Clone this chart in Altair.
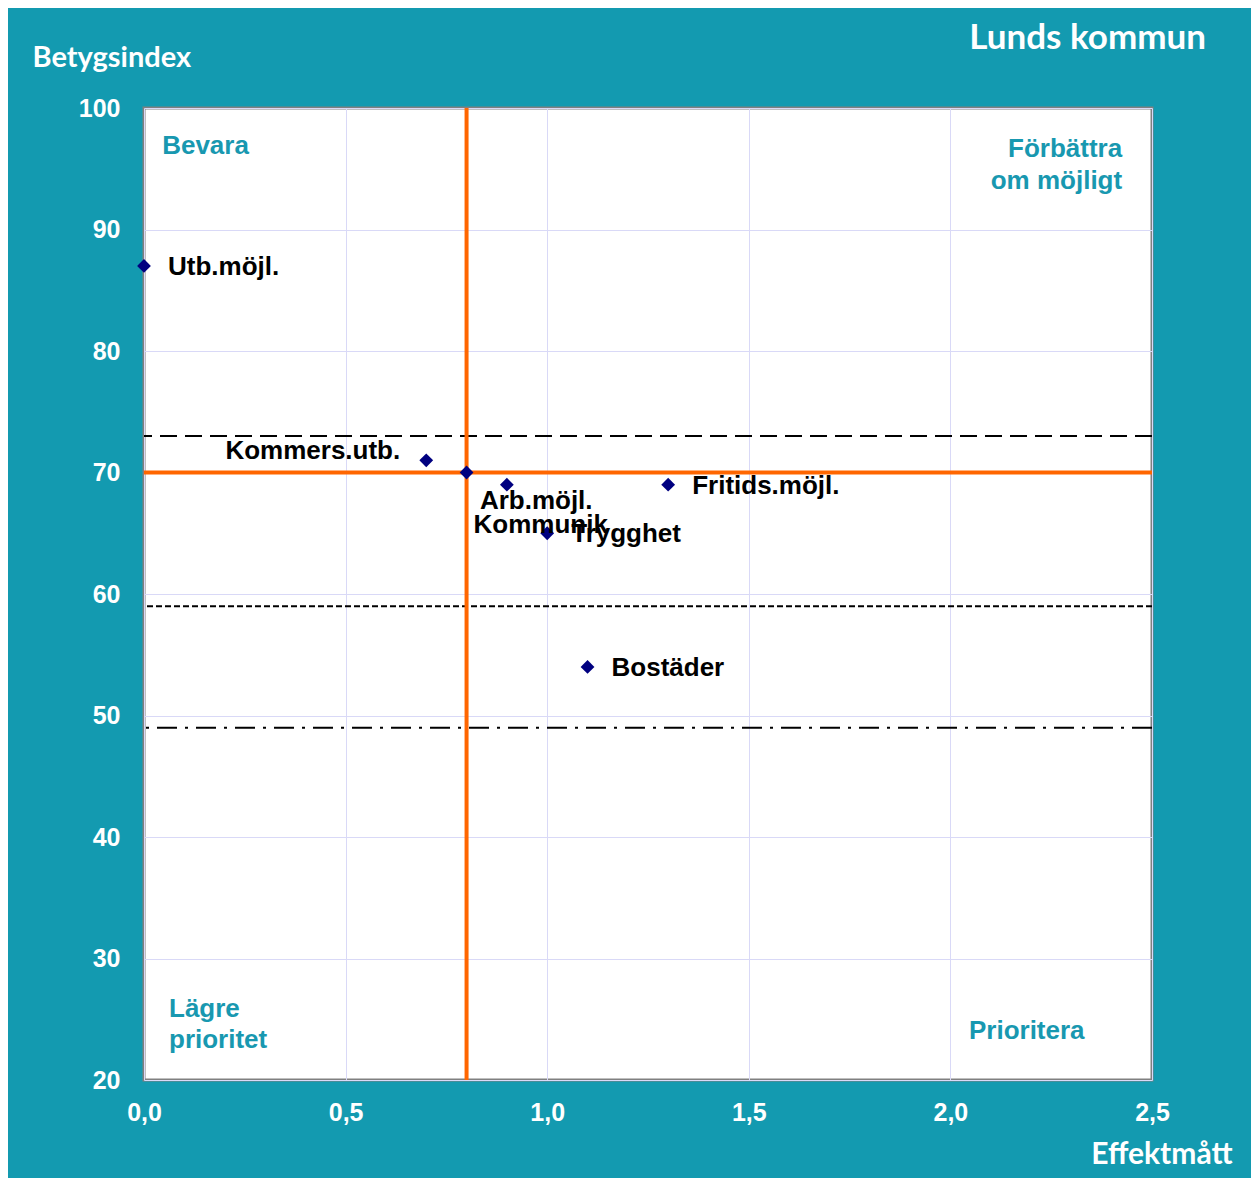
import altair as alt
import pandas as pd

# ---- data ----
names = ["Utb.möjl.", "Kommers.utb.", "Kommunik", "Arb.möjl.", "Trygghet", "Fritids.möjl.", "Bostäder"]
effekt = [0.0, 0.7, 0.8, 0.9, 1.0, 1.3, 1.1]
betyg = [87, 71, 70, 69, 65, 69, 54]
label_side = ["right", "left", "below2", "below1", "right", "right", "right"]

ref_levels = [73, 59, 49]
ref_styles = ["long", "short", "dashdot"]

cross_x = [0.8]
cross_y = [70]

quad_text = ["Bevara", "Förbättra", "om möjligt", "Lägre", "prioritet", "Prioritera"]
quad_x = [0.045, 2.426, 2.426, 0.062, 0.062, 2.046]
quad_y = [96.9, 96.6, 94.0, 25.85, 23.3, 24.05]
quad_side = ["left", "right", "right", "left", "left", "left"]

x_ticks = [0.0, 0.5, 1.0, 1.5, 2.0, 2.5]
y_ticks = [20, 30, 40, 50, 60, 70, 80, 90, 100]

pts = pd.DataFrame({"name": names, "effekt": effekt, "betyg": betyg, "side": label_side})
refs = pd.DataFrame({"betyg": ref_levels, "style": ref_styles})
vline = pd.DataFrame({"effekt": cross_x})
hline = pd.DataFrame({"betyg": cross_y})
quads = pd.DataFrame({"text": quad_text, "effekt": quad_x, "betyg": quad_y, "side": quad_side})

TEAL = "#139AB0"
LABEL_TEAL = "#1898B0"
GRID = "#D9D9F7"

xaxis = alt.Axis(
    values=x_ticks,
    labelExpr="replace(format(datum.value, '.1f'), '.', ',')",
    title="Effektmått", titleAngle=0, titleAlign="right", titleBaseline="middle",
    titleX=1088, titleY=74, titleFont="Lato", titleFontSize=30, titleFontWeight="bold",
    titleColor="white",
    labelFont="Liberation Sans", labelFontSize=25, labelFontWeight="bold", labelColor="white",
    labelPadding=20, ticks=False, domain=False, grid=True, gridColor=GRID, gridWidth=1,
    labelFlush=False, labelOverlap=False,
)
yaxis = alt.Axis(
    values=y_ticks,
    title="Betygsindex", titleAngle=0, titleAlign="left", titleBaseline="middle",
    titleX=-112, titleY=-51, titleFont="Lato", titleFontSize=29, titleFontWeight="bold",
    titleColor="white",
    labelFont="Liberation Sans", labelFontSize=25, labelFontWeight="bold", labelColor="white",
    labelPadding=24, ticks=False, domain=False, grid=True, gridColor=GRID, gridWidth=1,
    labelFlush=False, labelOverlap=False,
)
xenc = alt.X("effekt:Q", scale=alt.Scale(domain=[0, 2.5], nice=False, zero=False), axis=xaxis)
yenc = alt.Y("betyg:Q", scale=alt.Scale(domain=[20, 100], nice=False, zero=False), axis=yaxis)

dash_map = {"long": [17, 8], "short": [6, 3], "dashdot": [20, 8, 3, 8]}
ref_layers = [
    alt.Chart(refs).transform_filter(alt.datum.style == s)
    .mark_rule(color="black", strokeWidth=2, strokeDash=d)
    .encode(y=yenc)
    for s, d in dash_map.items()
]

vrule = alt.Chart(vline).mark_rule(color="#FF6600", strokeWidth=4).encode(x=xenc)
hrule = alt.Chart(hline).mark_rule(color="#FF6600", strokeWidth=4).encode(y=yenc)

points = alt.Chart(pts).mark_point(
    shape="diamond", filled=True, color="#000080", size=190, opacity=1
).encode(x=xenc, y=yenc)

lbl_style = dict(font="Liberation Sans", fontSize=26, fontWeight="bold", color="black", baseline="middle")
offsets = {
    "right": dict(align="left", dx=24, dy=1),
    "left": dict(align="right", dx=-26, dy=-9),
    "below1": dict(align="left", dx=-27, dy=16),
    "below2": dict(align="left", dx=7, dy=52),
}
label_layers = [
    alt.Chart(pts).transform_filter(alt.datum.side == s)
    .mark_text(**lbl_style, **o)
    .encode(x=xenc, y=yenc, text="name:N")
    for s, o in offsets.items()
]

q_style = dict(font="Liberation Sans", fontSize=26, fontWeight="bold", color=LABEL_TEAL, baseline="middle")
quad_layers = [
    alt.Chart(quads).transform_filter(alt.datum.side == s)
    .mark_text(align=s, **q_style)
    .encode(x=xenc, y=yenc, text="text:N")
    for s in ["left", "right"]
]

chart = alt.layer(
    *ref_layers, vrule, hrule, points, *label_layers, *quad_layers
).properties(
    width=1008,
    height=972,
    title=alt.Title("Lunds kommun", anchor="end", frame="group", font="Lato", fontSize=35,
                    fontWeight="bold", color="white", dx=54, offset=0, dy=13),
    autosize=alt.AutoSizeParams(type="none"),
    padding={"left": 136, "top": 100, "right": 99, "bottom": 98},
    background=TEAL,
).configure_view(
    stroke="#808080", strokeWidth=3, fill="white"
)

chart.save("out.html", embed_options={"renderer": "svg", "actions": False})
